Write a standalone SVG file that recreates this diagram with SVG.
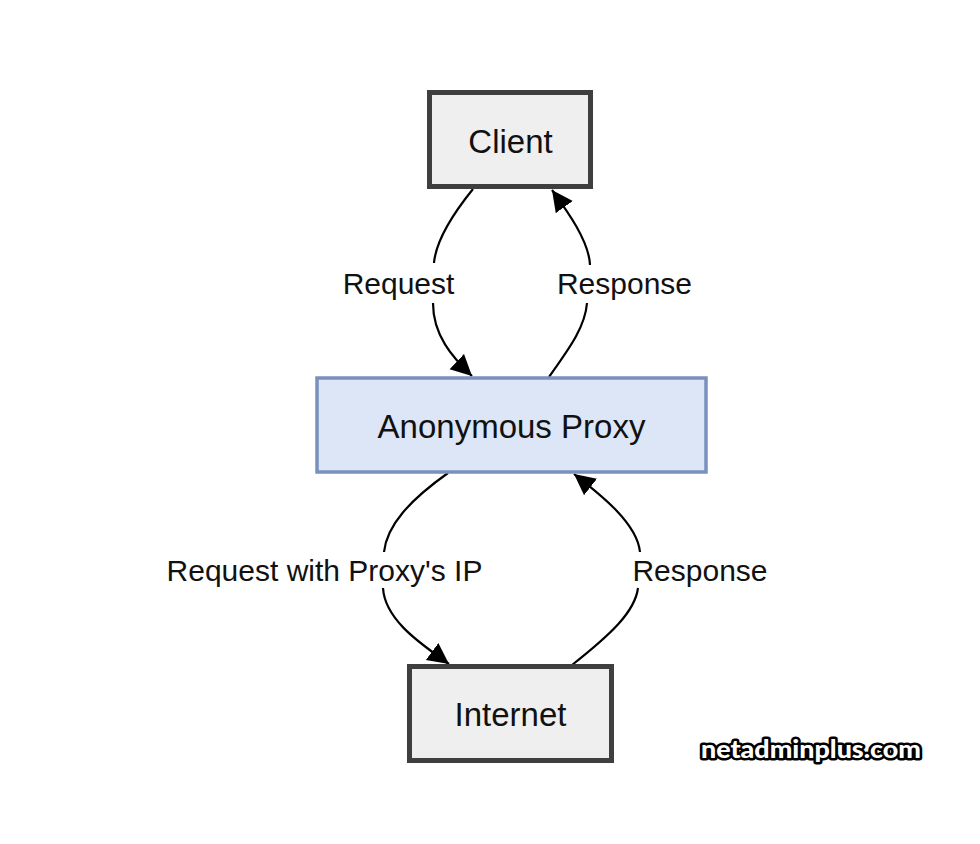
<svg xmlns="http://www.w3.org/2000/svg" width="980" height="844" viewBox="0 0 980 844">
<style>
.gray{fill:#efefef;stroke:#3f3f3f;stroke-width:5}
.blue{fill:#dce6f7;stroke:#7a90be;stroke-width:3.5}
.nl{font-family:"Liberation Sans",Arial,sans-serif;font-size:33px;fill:#111;text-anchor:middle}
.el{font-family:"Liberation Sans",Arial,sans-serif;font-size:30px;fill:#111;text-anchor:middle}
.e{fill:none;stroke:#000;stroke-width:2.2}
.wm{font-family:Lato,"Open Sans","DejaVu Sans",sans-serif;font-weight:900;font-size:25px;fill:#fff;stroke:#000;stroke-width:5;stroke-linejoin:round;paint-order:stroke;text-anchor:middle}
</style>
<defs>
<marker id="arr" markerUnits="userSpaceOnUse" markerWidth="24" markerHeight="24" refX="21" refY="10.5" orient="auto">
<path d="M0,0 L21,10.5 L0,21 z" fill="#000"/>
</marker>
</defs>
<rect width="980" height="844" fill="#fff"/>
<g id="connectors">
<g id="e-request">
<path class="e" d="M473,189 C452,215 436,240 434,263"/>
<path class="e" d="M433,303 C433,335 452,357 472,376" marker-end="url(#arr)"/>
<text class="el" x="398.5" y="294">Request</text>
</g>
<g id="e-response">
<path class="e" d="M549,377 C568,350 585,328 587,303"/>
<path class="e" d="M590,265 C589,240 565,208 552,190" marker-end="url(#arr)"/>
<text class="el" x="624.5" y="294">Response</text>
</g>
<g id="e-request-ip">
<path class="e" d="M448,473 C410,500 387,525 384,552"/>
<path class="e" d="M383,588 C385,622 426,647 449,664" marker-end="url(#arr)"/>
<text class="el" x="324.5" y="581">Request with Proxy's IP</text>
</g>
<g id="e-response2">
<path class="e" d="M572,665 C610,635 635,612 638,588"/>
<path class="e" d="M640,552 C637,522 597,492 574,474" marker-end="url(#arr)"/>
<text class="el" x="700" y="581">Response</text>
</g>
</g>
<g id="client">
<rect class="gray" x="429.5" y="92.5" width="161" height="94"/>
<text class="nl" x="510.5" y="153">Client</text>
</g>
<g id="proxy">
<rect class="blue" x="317" y="378" width="389" height="94"/>
<text class="nl" x="511.5" y="438">Anonymous Proxy</text>
</g>
<g id="internet">
<rect class="gray" x="409.5" y="666.5" width="202" height="94"/>
<text class="nl" x="510.5" y="726">Internet</text>
</g>
<text class="wm" x="811" y="758" textLength="220" lengthAdjust="spacingAndGlyphs">netadminplus.com</text>
</svg>
